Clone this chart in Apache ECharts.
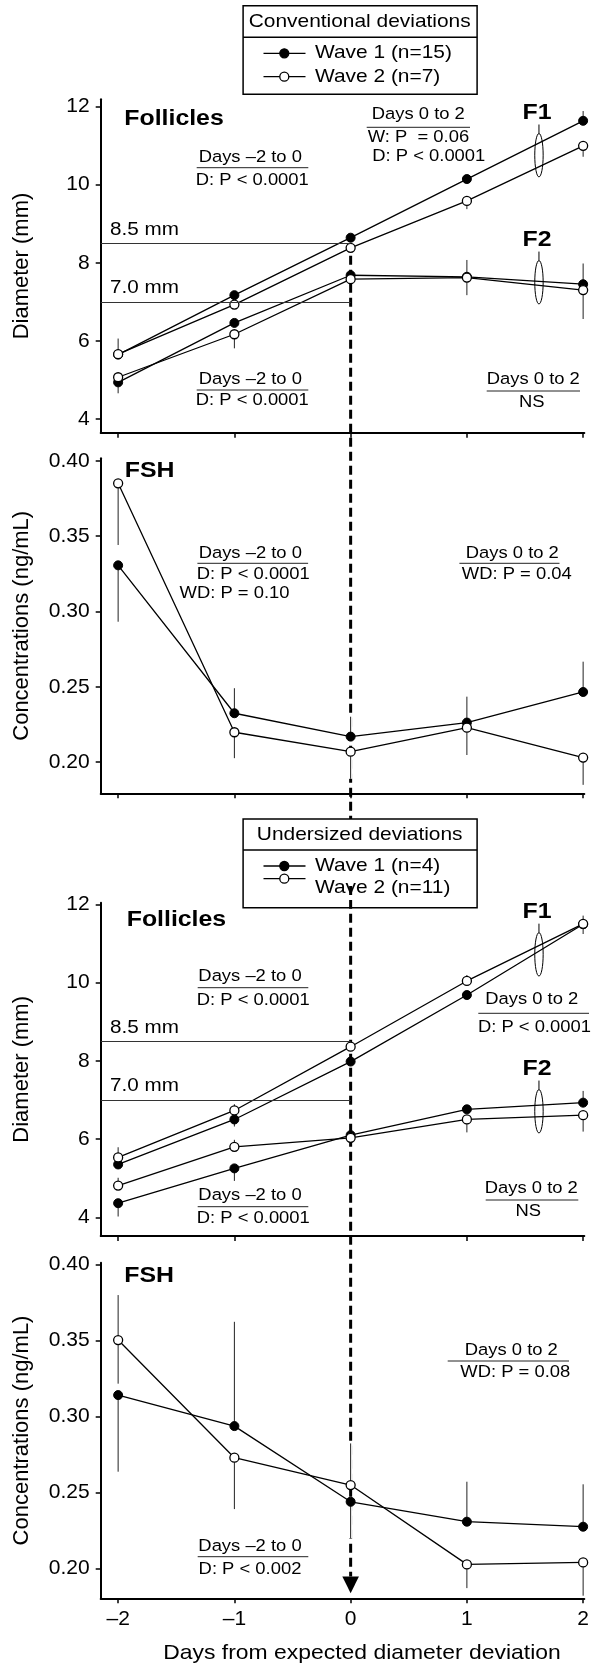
<!DOCTYPE html>
<html>
<head>
<meta charset="utf-8">
<script src="https://cdn.jsdelivr.net/npm/echarts@6/dist/echarts.min.js"></script>
<style>
  html, body { margin: 0; padding: 0; background: #fff; }
  #chart { width: 592px; height: 1667px; }
</style>
</head>
<body>
<div id="chart"></div>
<script>
// ---- data -----------------------------------------------------------------
const days = [-2, -1, 0, 1, 2];
const dayTicks = [-2, -1, 0, 1, 2];
const diameterTicks = [4, 6, 8, 10, 12];
const fshTicks = [0.20, 0.25, 0.30, 0.35, 0.40];
const thresholds = [8.5, 7.0];

// Conventional deviations – follicle diameter (mm)
const convF1Wave1 = [5.65, 7.17, 8.64, 10.14, 11.63];
const convF1Wave2 = [5.66, 6.93, 8.38, 9.58, 10.99];
const convF2Wave1 = [4.94, 6.46, 7.68, 7.64, 7.45];
const convF2Wave2 = [5.07, 6.17, 7.58, 7.62, 7.30];
// error bar ends (null = no bar drawn on that side)
const convF1Wave1Hi = [null, null, null, null, 11.88];
const convF1Wave2Hi = [6.06, null, null, null, null];
const convF1Wave2Lo = [null, null, null, 9.37, 10.71];
const convF2Wave1Lo = [4.66, null, null, null, null];
const convF2Wave1Hi = [null, null, null, 8.07, 7.98];
const convF2Wave2Lo = [null, 5.81, null, 7.17, 6.56];

// Conventional deviations – FSH (ng/mL)
const convFshWave1 = [0.3306, 0.2325, 0.2170, 0.2263, 0.2466];
const convFshWave2 = [0.3850, 0.2199, 0.2070, 0.2229, 0.2031];
const convFshWave1Lo = [0.2932, null, null, null, null];
const convFshWave1Hi = [null, 0.2491, 0.2302, 0.2435, 0.2667];
const convFshWave2Lo = [0.3441, 0.2027, 0.1890, 0.2048, 0.1850];

// Undersized deviations – follicle diameter (mm)
const undF1Wave1 = [5.35, 6.50, 7.98, 9.68, 11.49];
const undF1Wave2 = [5.53, 6.73, 8.36, 10.04, 11.50];
const undF2Wave1 = [4.36, 5.25, 6.10, 6.76, 6.93];
const undF2Wave2 = [4.81, 5.80, 6.03, 6.50, 6.61];
const undF1Wave1Lo = [null, 6.32, null, null, 11.24];
const undF1Wave2Hi = [5.79, 6.89, null, 10.19, 11.71];
const undF2Wave1Lo = [4.02, 4.93, null, null, null];
const undF2Wave1Hi = [null, null, null, null, 7.23];
const undF2Wave2Hi = [5.01, 5.98, null, null, null];
const undF2Wave2Lo = [null, null, null, 6.17, 6.19];

// Undersized deviations – FSH (ng/mL)
const undFshWave1 = [0.3140, 0.2936, 0.2438, 0.2307, 0.2274];
const undFshWave2 = [0.3502, 0.2728, 0.2548, 0.2026, 0.2039];
const undFshWave1Lo = [0.2636, null, 0.2197, null, null];
const undFshWave1Hi = [null, 0.3622, null, 0.2570, 0.2553];
const undFshWave2Lo = [0.3215, 0.2390, null, 0.1870, 0.1820];
const undFshWave2Hi = [0.3798, null, 0.2822, null, null];

// ---- layout / style -------------------------------------------------------
const FONT = '"Liberation Sans", Arial, Helvetica, sans-serif';
const SX = 1.13;            // horizontal stretch used for annotation text
const X_MIN = -2.15, X_MAX = 2.01;
const grids = [
  { left: 100.7, width: 483.6, top: 99.3,   height: 333.4 },
  { left: 100.7, width: 483.6, top: 458.3,  height: 335.0 },
  { left: 100.7, width: 483.6, top: 902.7,  height: 333.3 },
  { left: 100.7, width: 483.6, top: 1262.7, height: 335.6 }
];
const yRanges = [[3.652, 12.18], [0.1794, 0.4016], [3.522, 12.04], [0.1803, 0.4011]];
const yNames = ['Diameter (mm)', 'Concentrations (ng/mL)', 'Diameter (mm)', 'Concentrations (ng/mL)'];
const yTicks = [diameterTicks, fshTicks, diameterTicks, fshTicks];

const axisLine = { show: true, onZero: false, lineStyle: { color: '#000', width: 2 } };
const tickStyle = { color: '#000', width: 1.5 };

const xAxes = grids.map((g, i) => ({
  type: 'value', gridIndex: i, min: X_MIN, max: X_MAX,
  axisLine,
  axisTick: { show: true, customValues: dayTicks, length: 5, lineStyle: tickStyle },
  axisLabel: {
    show: i === 3, customValues: dayTicks, margin: 10,
    formatter: v => String(v).replace('-', '\u2013'),
    fontSize: 21, color: '#000', fontFamily: FONT
  },
  splitLine: { show: false }
}));

const yAxes = grids.map((g, i) => ({
  type: 'value', gridIndex: i, min: yRanges[i][0], max: yRanges[i][1],
  axisLine,
  axisTick: { show: true, customValues: yTicks[i], length: 5, lineStyle: tickStyle },
  axisLabel: {
    customValues: yTicks[i], margin: 11,
    formatter: v => (i % 2 === 1 ? v.toFixed(2) : String(Math.round(v))),
    fontSize: 21, color: '#000', fontFamily: FONT
  },
  splitLine: { show: false },
  name: yNames[i], nameLocation: 'middle', nameGap: 68,
  nameTextStyle: { fontSize: 22, color: '#000', fontFamily: FONT }
}));

function waveLine(grid, values, filled, extra) {
  return Object.assign({
    type: 'line', xAxisIndex: grid, yAxisIndex: grid, z: 3,
    data: days.map((d, i) => [d, values[i]]),
    symbol: 'circle', symbolSize: 9, showSymbol: true, showAllSymbol: true,
    lineStyle: { color: '#000', width: 1.3 },
    itemStyle: filled
      ? { color: '#000', borderColor: '#000', borderWidth: 1 }
      : { color: '#fff', borderColor: '#000', borderWidth: 1.3 },
    emphasis: { disabled: true }, silent: true, animation: false
  }, extra || {});
}

function errorBars(grid, sets) {
  const data = [];
  sets.forEach(([vals, lo, hi]) => days.forEach((d, i) => {
    if (lo && lo[i] != null) data.push([d, vals[i], lo[i]]);
    if (hi && hi[i] != null) data.push([d, vals[i], hi[i]]);
  }));
  return {
    type: 'custom', xAxisIndex: grid, yAxisIndex: grid, z: 2,
    silent: true, animation: false, data,
    encode: { x: 0, y: [1, 2] },
    renderItem(params, api) {
      const a = api.coord([api.value(0), api.value(1)]);
      const b = api.coord([api.value(0), api.value(2)]);
      const shape = { x1: a[0], y1: a[1], x2: b[0], y2: b[1] };
      return {
        type: 'group', children: [
          { type: 'line', shape, style: { stroke: '#fff', lineWidth: 4 } },
          { type: 'line', shape, style: { stroke: '#222', lineWidth: 1 } }
        ]
      };
    }
  };
}

function thresholdLines() {
  return {
    silent: true, symbol: 'none', animation: false,
    lineStyle: { color: '#333', width: 1, type: 'solid' },
    label: { show: false },
    data: thresholds.map(t => [{ coord: [X_MIN, t] }, { coord: [0, t] }])
  };
}

const series = [
  // conventional, follicles
  errorBars(0, [
    [convF1Wave1, null, convF1Wave1Hi], [convF1Wave2, convF1Wave2Lo, convF1Wave2Hi],
    [convF2Wave1, convF2Wave1Lo, convF2Wave1Hi], [convF2Wave2, convF2Wave2Lo, null]
  ]),
  waveLine(0, convF1Wave1, true, { markLine: thresholdLines() }),
  waveLine(0, convF2Wave1, true),
  waveLine(0, convF1Wave2, false),
  waveLine(0, convF2Wave2, false),
  // conventional, FSH
  errorBars(1, [[convFshWave1, convFshWave1Lo, convFshWave1Hi], [convFshWave2, convFshWave2Lo, null]]),
  waveLine(1, convFshWave1, true),
  waveLine(1, convFshWave2, false),
  // undersized, follicles
  errorBars(2, [
    [undF1Wave1, undF1Wave1Lo, null], [undF1Wave2, null, undF1Wave2Hi],
    [undF2Wave1, undF2Wave1Lo, undF2Wave1Hi], [undF2Wave2, undF2Wave2Lo, undF2Wave2Hi]
  ]),
  waveLine(2, undF1Wave1, true, { markLine: thresholdLines() }),
  waveLine(2, undF2Wave1, true),
  waveLine(2, undF1Wave2, false),
  waveLine(2, undF2Wave2, false),
  // undersized, FSH
  errorBars(3, [[undFshWave1, undFshWave1Lo, undFshWave1Hi], [undFshWave2, undFshWave2Lo, undFshWave2Hi]]),
  waveLine(3, undFshWave1, true),
  waveLine(3, undFshWave2, false)
];

const chart = echarts.init(document.getElementById('chart'), null, { renderer: 'canvas', width: 592, height: 1667 });
chart.setOption({
  animation: false,
  backgroundColor: '#fff',
  grid: grids,
  xAxis: xAxes,
  yAxis: yAxes,
  series
});

// ---- annotations ------------------------------------------------------------
function txt(x, y, text, opt) {
  opt = opt || {};
  return {
    type: 'text', x, y, scaleX: SX, z: opt.z || 20, silent: true,
    style: {
      text, fill: '#000', fontFamily: FONT,
      fontSize: opt.size || 16.3, fontWeight: opt.bold ? 'bold' : 'normal',
      align: opt.align || 'center', verticalAlign: 'middle'
    }
  };
}
function rule(x1, x2, y) {
  return { type: 'line', z: 20, silent: true, shape: { x1, y1: y, x2, y2: y }, style: { stroke: '#222', lineWidth: 1 } };
}
function stat(cx, y, head, lines, ruleX1, ruleX2, ruleY) {
  const out = [txt(cx, y, head), rule(ruleX1, ruleX2, ruleY)];
  lines.forEach(l => out.push(txt(l.x, l.y, l.t, { align: l.align || 'center' })));
  return out;
}
function legend(top, bottom, divider, title, items) {
  const out = [
    { type: 'rect', z: 15, silent: true, shape: { x: 243.1, y: top, width: 234, height: bottom - top },
      style: { fill: '#fff', stroke: '#000', lineWidth: 1.5 } },
    { type: 'line', z: 16, silent: true, shape: { x1: 243.1, y1: divider, x2: 477.1, y2: divider },
      style: { stroke: '#000', lineWidth: 1.5 } },
    txt(359.7, (top + divider) / 2, title, { size: 18.5, z: 17 })
  ];
  items.forEach(it => {
    out.push({ type: 'line', z: 16, silent: true, shape: { x1: 263.5, y1: it.sy, x2: 305.5, y2: it.sy },
      style: { stroke: '#000', lineWidth: 1.3 } });
    out.push({ type: 'circle', z: 17, silent: true, shape: { cx: 284.3, cy: it.sy, r: 4.5 },
      style: { fill: it.filled ? '#000' : '#fff', stroke: '#000', lineWidth: 1.3 } });
    out.push(txt(315, it.ty, it.label, { size: 18.5, align: 'left', z: 17 }));
  });
  return out;
}

const px = (g, p) => chart.convertToPixel({ xAxisIndex: g, yAxisIndex: g }, p);

const graphics = [];

// legends
graphics.push(...legend(5.7, 94.3, 37.3, 'Conventional deviations', [
  { sy: 53.3, ty: 53.3, filled: true, label: 'Wave 1 (n=15)' },
  { sy: 76.7, ty: 76.7, filled: false, label: 'Wave 2 (n=7)' }
]));
graphics.push(...legend(819, 907.7, 850, 'Undersized deviations', [
  { sy: 866, ty: 866, filled: true, label: 'Wave 1 (n=4)' },
  { sy: 878.7, ty: 888.3, filled: false, label: 'Wave 2 (n=11)' }
]));

// panel headings
graphics.push(txt(124.3, 119, 'Follicles', { bold: true, size: 22, align: 'left' }));
graphics.push(txt(124.8, 470.7, 'FSH', { bold: true, size: 22, align: 'left' }));
graphics.push(txt(126.7, 920, 'Follicles', { bold: true, size: 22, align: 'left' }));
graphics.push(txt(124.3, 1275.7, 'FSH', { bold: true, size: 22, align: 'left' }));

// statistics
graphics.push(...stat(250.3, 157.7, 'Days \u20132 to 0', [{ x: 252.3, y: 181, t: 'D: P < 0.0001' }], 196.7, 308.3, 167.7));
graphics.push(...stat(418.3, 115, 'Days 0 to 2', [
  { x: 367.7, y: 137.7, t: 'W: P  = 0.06', align: 'left' },
  { x: 372.3, y: 156.7, t: 'D: P < 0.0001', align: 'left' }
], 366.7, 470, 127.3));
graphics.push(...stat(250.3, 380, 'Days \u20132 to 0', [{ x: 252.3, y: 401, t: 'D: P < 0.0001' }], 196.7, 308.3, 390));
graphics.push(...stat(533.3, 380, 'Days 0 to 2', [{ x: 531.7, y: 402.5, t: 'NS' }], 486.7, 580, 391));

graphics.push(...stat(250.3, 553.3, 'Days \u20132 to 0', [
  { x: 253.3, y: 575, t: 'D: P < 0.0001' },
  { x: 179.6, y: 594, t: 'WD: P = 0.10', align: 'left' }
], 197.4, 308.1, 563.3));
graphics.push(...stat(512.3, 553.3, 'Days 0 to 2', [{ x: 516.8, y: 575, t: 'WD: P = 0.04' }], 459.4, 559.5, 563.3));

graphics.push(...stat(250, 976.7, 'Days \u20132 to 0', [{ x: 253.3, y: 1001, t: 'D: P < 0.0001' }], 197.7, 308.3, 987.7));
graphics.push(...stat(531.7, 1000, 'Days 0 to 2', [{ x: 534.4, y: 1027.7, t: 'D: P < 0.0001' }], 478.3, 589, 1013.3));
graphics.push(...stat(250, 1196, 'Days \u20132 to 0', [{ x: 253.3, y: 1218.3, t: 'D: P < 0.0001' }], 197.7, 308.3, 1206.7));
graphics.push(...stat(531.3, 1188.3, 'Days 0 to 2', [{ x: 528.3, y: 1211.7, t: 'NS' }], 485.7, 578.3, 1200));

graphics.push(...stat(511.3, 1351, 'Days 0 to 2', [{ x: 515.3, y: 1372.3, t: 'WD: P = 0.08' }], 447.7, 569, 1361));
graphics.push(...stat(250, 1546.7, 'Days \u20132 to 0', [{ x: 250, y: 1570, t: 'D: P < 0.002' }], 197.7, 308.3, 1556.7));

// threshold labels
[0, 2].forEach(g => thresholds.forEach(t => {
  const p = px(g, [X_MIN, t]);
  graphics.push(txt(110, p[1] - 13.5, t.toFixed(1) + ' mm', { size: 18.3, align: 'left' }));
}));

// follicle group rings (F1 / F2)
const rings = [
  { g: 0, at: [1.62, 10.75], name: 'F1' }, { g: 0, at: [1.62, 7.50], name: 'F2' },
  { g: 2, at: [1.62, 10.72], name: 'F1' }, { g: 2, at: [1.62, 6.71], name: 'F2' }
];
rings.forEach(r => {
  const c = px(r.g, r.at);
  const topY = c[1] - 21.7;
  graphics.push({ type: 'ellipse', z: 12, silent: true, shape: { cx: c[0], cy: c[1], rx: 4.2, ry: 21.7 },
    style: { fill: 'none', stroke: '#000', lineWidth: 1 } });
  graphics.push({ type: 'line', z: 12, silent: true, shape: { x1: c[0], y1: topY, x2: c[0], y2: topY - 9 },
    style: { stroke: '#000', lineWidth: 1 } });
  graphics.push(txt(c[0] - 2, topY - 20.5, r.name, { bold: true, size: 22 }));
});

// day-0 reference: dashed line from the follicle panel down to the arrow
const dTop = px(0, [0, Math.min(convF1Wave1[2], convF1Wave2[2])]);
const dBot = px(3, [0, yRanges[3][0]]);
const tipY = dBot[1] - 5;
const baseY = tipY - 16.7;
const dash = { stroke: '#000', lineWidth: 3, lineDash: [9, 5] };
graphics.push({ type: 'line', z: 1, silent: true,
  shape: { x1: dTop[0], y1: dTop[1] + 8, x2: dTop[0], y2: baseY }, style: dash });
graphics.push({ type: 'line', z: 18, silent: true,
  shape: { x1: dTop[0], y1: 886, x2: dTop[0], y2: 907.7 }, style: dash });
graphics.push({ type: 'polygon', z: 4, silent: true,
  shape: { points: [[dBot[0] - 8.3, baseY], [dBot[0] + 8.3, baseY], [dBot[0], tipY]] },
  style: { fill: '#000' } });

// x axis title
graphics.push(txt(362, 1653.3, 'Days from expected diameter deviation', { size: 20.3 }));

chart.setOption({ graphic: { elements: graphics } });
</script>
</body>
</html>
